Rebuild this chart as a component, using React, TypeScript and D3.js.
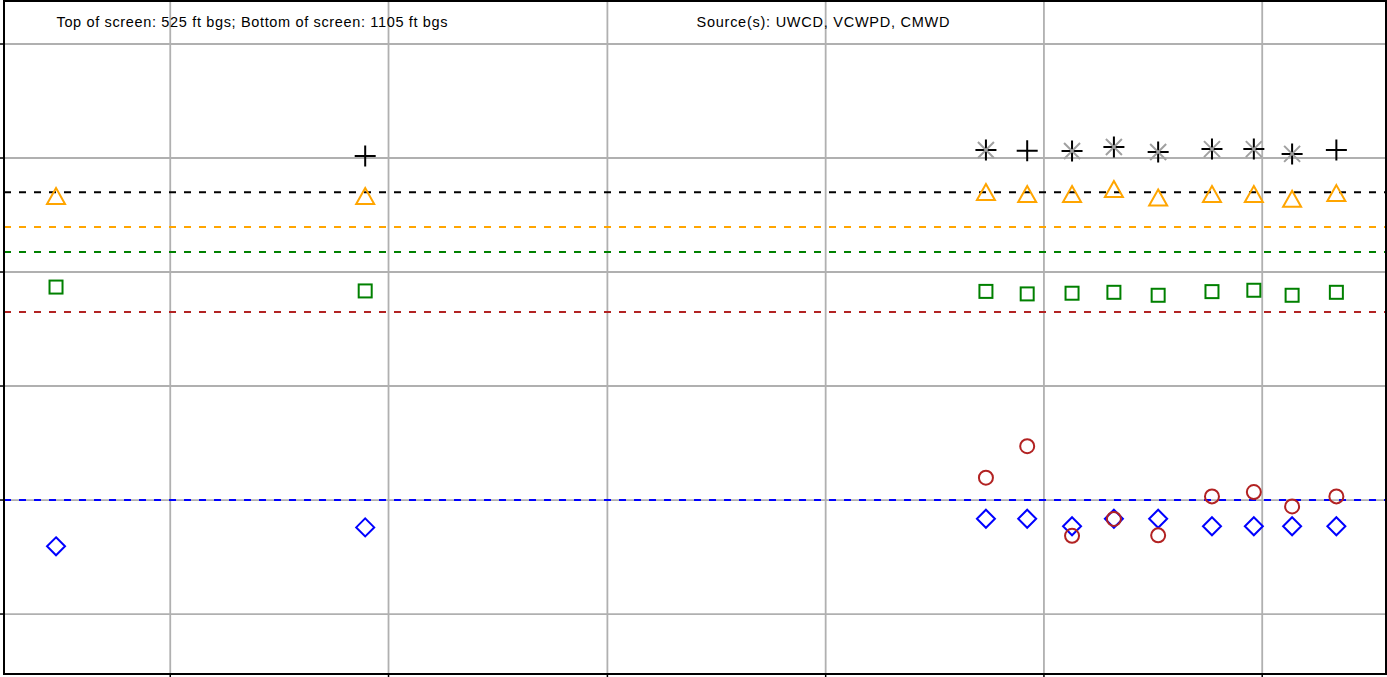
import React from "react";
import * as d3 from "d3";

// 圖表尺寸
const W = 1387;
const H = 677;
const M = { left: 4, top: 1, right: 1386, bottom: 674 };

/** 量測日期 */
const dates = [
    "2014-06-24", "2015-11-23", "2018-09-26", "2018-12-04", "2019-02-17",
    "2019-04-28", "2019-07-11", "2019-10-09", "2019-12-18", "2020-02-20", "2020-05-04",
];
/** 每個系列 (null = 沒有量測) */
const plusVals = [null, 50.9, 53.5, 53.2, 53.1, 54.8, 52.6, 53.9, 53.9, 51.8, 53.5];
const xVals = [null, null, 53.5, null, 53.1, 54.8, 52.6, 53.9, 53.9, 51.8, null];
const triVals = [33.3, 33.3, 35.1, 34.2, 34.2, 36.4, 32.7, 34.2, 34.2, 32.1, 34.6];
const sqVals = [-6.6, -8.3, -8.5, -9.6, -9.3, -8.9, -10.2, -8.6, -8.0, -10.2, -8.9];
const circVals = [null, null, -90.2, -76.4, -115.7, -108.3, -115.5, -98.4, -96.5, -102.8, -98.4];
const diaVals = [-120.3, -112.0, -108.2, -108.2, -111.5, -108.2, -108.2, -111.5, -111.5, -111.5, -111.5];

/** 門檻虛線 */
const thresholdVals = [35, 19.7, 8.8, -17.5, -100];
const thresholdColors = ["#000000", "#ffa500", "#008000", "#b22222", "#0000ff"];

/** 格線刻度 */
const yTicks = [100, 50, 0, -50, -100, -150];
const xTickYears = [2015, 2016, 2017, 2018, 2019, 2020];

const titleLeft = "Top of screen: 525 ft bgs; Bottom of screen: 1105 ft bgs";
const titleRight = "Source(s): UWCD, VCWPD, CMWD";

const parse = d3.timeParse("%Y-%m-%d");

export default function App() {
    const x = d3.scaleTime()
        .domain([parse("2014-03-29")!, parse("2020-07-26")!])
        .range([M.left, M.right]);
    const y = d3.scaleLinear()
        .domain([118.86, -176.3])
        .range([M.top, M.bottom]);

    const pts = (vals: (number | null)[]) =>
        vals.map((v, i) => v === null ? null : { cx: x(parse(dates[i])!), cy: y(v) })
            .filter((p): p is { cx: number; cy: number } => p !== null);

    const triangle = (cx: number, cy: number) => {
        const w = 9, h = 8;
        return `M${cx},${cy - h}L${cx + w},${cy + h}L${cx - w},${cy + h}Z`;
    };
    const diamond = (cx: number, cy: number) => {
        const r = 9;
        return `M${cx},${cy - r}L${cx + r},${cy}L${cx},${cy + r}L${cx - r},${cy}Z`;
    };
    const plus = (cx: number, cy: number) => {
        const r = 10.5;
        return `M${cx - r},${cy}H${cx + r}M${cx},${cy - r}V${cy + r}`;
    };
    const cross = (cx: number, cy: number) => {
        const r = 8;
        return `M${cx - r},${cy - r}L${cx + r},${cy + r}M${cx - r},${cy + r}L${cx + r},${cy - r}`;
    };

    const grid = "#b0b0b0";

    return (
        <svg width={W} height={H} style={{ position: "absolute", left: 0, top: 0, background: "#fff" }}
            fontFamily="Liberation Sans, Arial, sans-serif">
            {/* 格線 */}
            {yTicks.map(t => (
                <line key={"gy" + t} x1={M.left} x2={M.right} y1={y(t)} y2={y(t)} stroke={grid} strokeWidth={1.8} />
            ))}
            {xTickYears.map(t => {
                const px = x(new Date(t, 0, 1));
                return <line key={"gx" + t} x1={px} x2={px} y1={M.top} y2={M.bottom} stroke={grid} strokeWidth={1.8} />;
            })}

            {/* 門檻虛線 */}
            {thresholdVals.map((v, i) => (
                <line key={"th" + i} x1={M.left} x2={M.right} y1={y(v)} y2={y(v)}
                    stroke={thresholdColors[i]} strokeWidth={2} strokeDasharray="7,8" />
            ))}

            {/* 資料點 */}
            {pts(diaVals).map((p, i) => (
                <path key={"d" + i} d={diamond(p.cx, p.cy)} fill="none" stroke="#0000ff" strokeWidth={2} />
            ))}
            {pts(circVals).map((p, i) => (
                <circle key={"c" + i} cx={p.cx} cy={p.cy} r={7} fill="none" stroke="#b22222" strokeWidth={2} />
            ))}
            {pts(sqVals).map((p, i) => (
                <rect key={"s" + i} x={p.cx - 6.5} y={p.cy - 6.5} width={13} height={13} fill="none" stroke="#008000" strokeWidth={2} />
            ))}
            {pts(triVals).map((p, i) => (
                <path key={"t" + i} d={triangle(p.cx, p.cy)} fill="none" stroke="#ffa500" strokeWidth={2} />
            ))}
            {pts(plusVals).map((p, i) => (
                <path key={"p" + i} d={plus(p.cx, p.cy)} fill="none" stroke="#000000" strokeWidth={2} />
            ))}
            {pts(xVals).map((p, i) => (
                <path key={"x" + i} d={cross(p.cx, p.cy)} fill="none" stroke="#a0a0a0" strokeWidth={2} />
            ))}

            {/* 標題文字 */}
            <text x={252} y={27} fontSize={14.5} textAnchor="middle" fill="#000"
                textLength={391} lengthAdjust="spacing">{titleLeft}</text>
            <text x={823} y={27} fontSize={14.5} textAnchor="middle" fill="#000"
                textLength={253} lengthAdjust="spacing">{titleRight}</text>

            {/* 外框與刻度 */}
            {yTicks.map(t => (
                <line key={"ty" + t} x1={0} x2={M.left} y1={y(t)} y2={y(t)} stroke="#000" strokeWidth={1.5} />
            ))}
            {xTickYears.map(t => {
                const px = x(new Date(t, 0, 1));
                return <line key={"tx" + t} x1={px} x2={px} y1={M.bottom} y2={H} stroke="#000" strokeWidth={1.5} />;
            })}
            <rect x={M.left} y={M.top} width={M.right - M.left} height={M.bottom - M.top}
                fill="none" stroke="#000" strokeWidth={2} />
        </svg>
    );
}
